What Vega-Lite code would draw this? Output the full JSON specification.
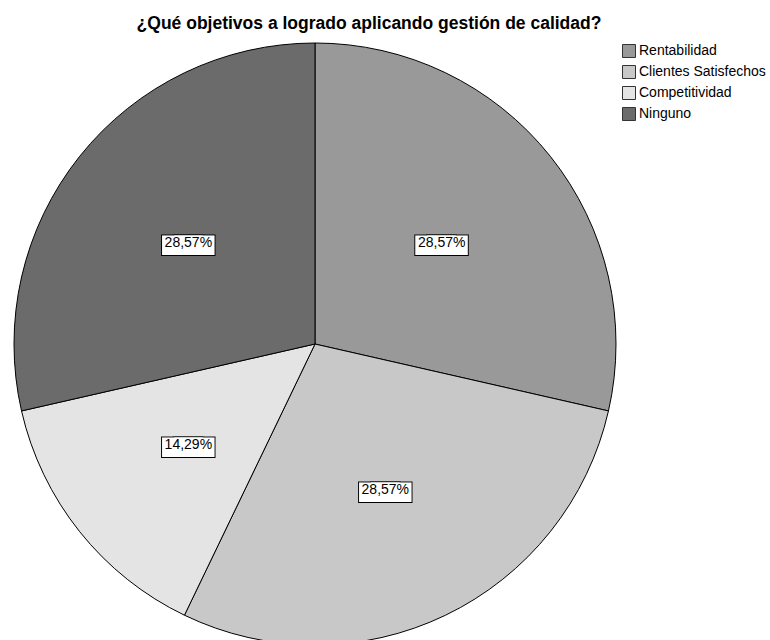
{
  "$schema": "https://vega.github.io/schema/vega-lite/v6.json",
  "width": 630,
  "height": 602,
  "padding": {"left": 0, "top": 14, "right": 0, "bottom": 0},
  "background": "white",
  "title": {
    "text": "¿Qué objetivos a logrado aplicando gestión de calidad?",
    "font": "Liberation Sans",
    "fontSize": 17.5,
    "fontWeight": "bold",
    "color": "black",
    "anchor": "middle",
    "dx": 54,
    "offset": 9
  },
  "data": {
    "values": [
      {"objetivo": "Rentabilidad", "proporcion": 0.2857, "orden": 1},
      {"objetivo": "Clientes Satisfechos", "proporcion": 0.2857, "orden": 2},
      {"objetivo": "Competitividad", "proporcion": 0.1429, "orden": 3},
      {"objetivo": "Ninguno", "proporcion": 0.2857, "orden": 4}
    ]
  },
  "encoding": {
    "theta": {"field": "proporcion", "type": "quantitative", "stack": true},
    "order": {"field": "orden", "type": "quantitative"}
  },
  "layer": [
    {
      "mark": {"type": "arc", "outerRadius": 301, "stroke": "black", "strokeWidth": 1},
      "encoding": {
        "color": {
          "field": "objetivo",
          "type": "nominal",
          "scale": {
            "domain": ["Rentabilidad", "Clientes Satisfechos", "Competitividad", "Ninguno"],
            "range": ["#999999", "#c8c8c8", "#e4e4e4", "#6b6b6b"]
          },
          "legend": {
            "title": null,
            "orient": "none",
            "legendX": 622,
            "legendY": 1,
            "symbolType": "square",
            "symbolSize": 169,
            "symbolStrokeColor": "#333333",
            "symbolStrokeWidth": 1,
            "symbolOpacity": 1,
            "labelFont": "Liberation Sans",
            "labelFontSize": 14,
            "labelColor": "black",
            "labelOffset": 3,
            "rowPadding": 3
          }
        }
      }
    },
    {
      "mark": {"type": "text", "radius": 162, "dx": -6, "text": "▬", "font": "DejaVu Sans", "fontSize": 53, "fill": "white", "stroke": "black", "strokeWidth": 2, "baseline": "middle", "align": "center"}
    },
    {
      "mark": {"type": "text", "radius": 162, "dx": 6, "text": "▬", "font": "DejaVu Sans", "fontSize": 53, "fill": "white", "stroke": "black", "strokeWidth": 2, "baseline": "middle", "align": "center"}
    },
    {
      "mark": {"type": "text", "radius": 162, "dx": -6, "text": "▬", "font": "DejaVu Sans", "fontSize": 53, "fill": "white", "baseline": "middle", "align": "center"}
    },
    {
      "mark": {"type": "text", "radius": 162, "dx": 6, "text": "▬", "font": "DejaVu Sans", "fontSize": 53, "fill": "white", "baseline": "middle", "align": "center"}
    },
    {
      "mark": {"type": "text", "radius": 162, "font": "Liberation Sans", "fontSize": 14, "color": "black", "baseline": "middle", "align": "center"},
      "encoding": {"text": {"field": "proporcion", "type": "quantitative", "format": ".2%"}}
    }
  ],
  "config": {
    "view": {"stroke": null},
    "locale": {"number": {"decimal": ",", "thousands": ".", "grouping": [3], "currency": ["", " €"]}}
  }
}
